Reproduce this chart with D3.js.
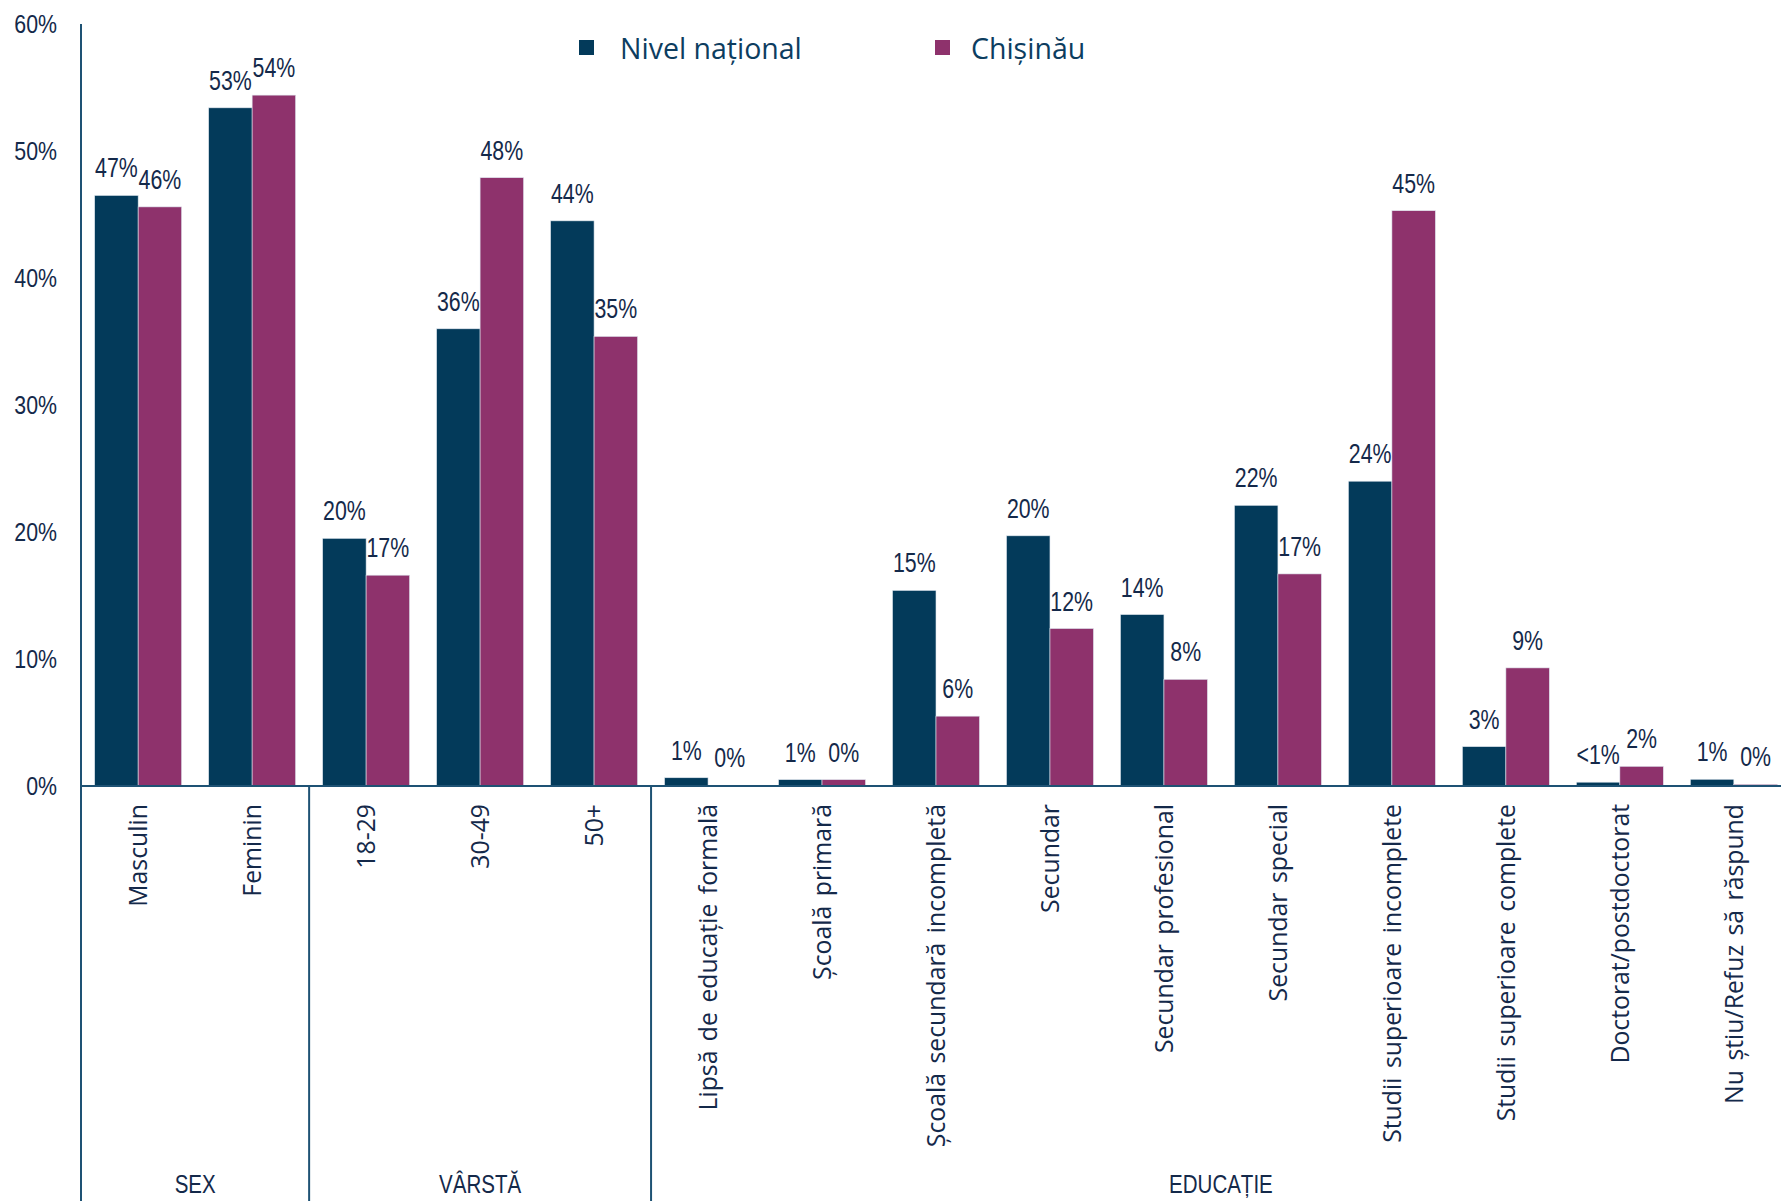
<!DOCTYPE html>
<html>
<head>
<meta charset="utf-8">
<script src="https://cdn.jsdelivr.net/npm/d3@7"></script>
<style>
  html, body { margin: 0; padding: 0; background: #ffffff; }
  svg { display: block; }
</style>
</head>
<body>
<div id="chart"></div>
<script>
// ---- DATA ----
const categories = [
  "Masculin", "Feminin",
  "18-29", "30-49", "50+",
  "Lipsă de educație formală", "Școală primară", "Școală secundară incompletă",
  "Secundar", "Secundar profesional", "Secundar special",
  "Studii superioare incomplete", "Studii superioare complete",
  "Doctorat/postdoctorat", "Nu știu/Refuz să răspund"
];
const groupNames = ["SEX", "VÂRSTĂ", "EDUCAȚIE"];
const groupOf = [0, 0, 1, 1, 1, 2, 2, 2, 2, 2, 2, 2, 2, 2, 2];
const seriesNames = ["Nivel național", "Chișinău"];
const nationalValues = [46.5, 53.4, 19.5, 36.0, 44.5, 0.65, 0.5, 15.4, 19.7, 13.5, 22.1, 24.0, 3.1, 0.3, 0.53];
const chisinauValues = [45.6, 54.4, 16.6, 47.9, 35.4, 0.05, 0.5, 5.5, 12.4, 8.4, 16.7, 45.3, 9.3, 1.55, 0.13];
const nationalLabels = ["47%", "53%", "20%", "36%", "44%", "1%", "1%", "15%", "20%", "14%", "22%", "24%", "3%", "<1%", "1%"];
const chisinauLabels = ["46%", "54%", "17%", "48%", "35%", "0%", "0%", "6%", "12%", "8%", "17%", "45%", "9%", "2%", "0%"];
const yTicks = [0, 10, 20, 30, 40, 50, 60];

// ---- STYLE ----
const W = 1781, H = 1201;
const colors = ["#033a5a", "#8e326c"];
const axisColor = "#1e5274";
const textColor = "#14294a";
const narrowFont = "'Liberation Sans', Arial, sans-serif";
const humanFont = "'Open Sans', 'Noto Sans', sans-serif";

// compress text horizontally to emulate a narrow face
function narrow(sel, factor) {
  sel.each(function () {
    const len = this.getComputedTextLength();
    d3.select(this).attr("textLength", len * factor).attr("lengthAdjust", "spacingAndGlyphs");
  });
}

const svg = d3.select("#chart").append("svg").attr("width", W).attr("height", H);

const x0 = d3.scaleBand().domain(categories).range([81, 1791]).paddingInner(0.237).paddingOuter(0.12);
const x1 = d3.scaleBand().domain(seriesNames).range([0, x0.bandwidth()]);
const y = d3.scaleLinear().domain([0, 60]).range([786, 24]);

const rows = categories.map((c, i) => ({
  cat: c,
  vals: [
    { s: seriesNames[0], v: nationalValues[i], lab: nationalLabels[i] },
    { s: seriesNames[1], v: chisinauValues[i], lab: chisinauLabels[i] }
  ]
}));

// bars
const g = svg.append("g");
const grp = g.selectAll("g.cat").data(rows).join("g")
  .attr("transform", d => `translate(${x0(d.cat)},0)`);
grp.selectAll("rect").data(d => d.vals).join("rect")
  .attr("x", d => x1(d.s))
  .attr("y", d => y(d.v))
  .attr("width", x1.bandwidth())
  .attr("height", d => y(0) - y(d.v))
  .attr("fill", (d, i) => colors[i])
  .attr("stroke", "#dfe6ee").attr("stroke-width", 0.6);
grp.selectAll("text").data(d => d.vals).join("text")
  .attr("x", d => x1(d.s) + x1.bandwidth() / 2)
  .attr("y", d => y(d.v) - 18)
  .attr("text-anchor", "middle")
  .attr("font-family", narrowFont)
  .attr("font-size", 27)
  .attr("fill", textColor)
  .text(d => d.lab)
  .call(narrow, 0.79);

// y axis
const yAxis = d3.axisLeft(y).tickValues(yTicks).tickFormat(d => d + "%").tickSize(0).tickPadding(24);
const ya = svg.append("g").attr("transform", "translate(81,0)").call(yAxis);
ya.select(".domain").remove();
ya.selectAll("text").attr("font-family", narrowFont).attr("font-size", 26).attr("fill", textColor).call(narrow, 0.82);

// left axis line (full height)
svg.append("line").attr("x1", 81).attr("x2", 81).attr("y1", y(60)).attr("y2", H)
  .attr("stroke", axisColor).attr("stroke-width", 2);

// baseline
svg.append("line").attr("x1", 81).attr("x2", W).attr("y1", y(0)).attr("y2", y(0))
  .attr("stroke", axisColor).attr("stroke-width", 2);

// category labels
svg.append("g").selectAll("text").data(categories).join("text")
  .attr("transform", d => `translate(${x0(d) + x0.bandwidth() / 2},804) rotate(-90)`)
  .attr("text-anchor", "end")
  .attr("dy", "0.35em")
  .attr("font-family", humanFont)
  .attr("font-size", 24.8)
  .attr("word-spacing", 3)
  .attr("fill", textColor)
  .text(d => d);

// group separators & labels
const step = x0.step();
const groups = groupNames.map((name, gi) => {
  const idx = categories.map((c, i) => i).filter(i => groupOf[i] === gi);
  const first = categories[idx[0]], last = categories[idx[idx.length - 1]];
  const start = x0(first) - (step - x0.bandwidth()) / 2;
  const end = x0(last) + x0.bandwidth() + (step - x0.bandwidth()) / 2;
  return { name, start, end };
});
svg.append("g").selectAll("line").data(groups.slice(1)).join("line")
  .attr("x1", d => d.start).attr("x2", d => d.start)
  .attr("y1", y(0)).attr("y2", H)
  .attr("stroke", axisColor).attr("stroke-width", 2);
svg.append("g").selectAll("text").data(groups).join("text")
  .attr("x", d => (d.start + d.end) / 2)
  .attr("y", 1193)
  .attr("text-anchor", "middle")
  .attr("font-family", narrowFont)
  .attr("font-size", 25)
  .attr("fill", textColor)
  .text(d => d.name)
  .call(narrow, 0.82);

// legend
const legendX = [579, 935];
const legendTextX = [620, 971];
const lg = svg.append("g").selectAll("g").data(seriesNames).join("g");
lg.append("rect").attr("x", (d, i) => legendX[i]).attr("y", 40)
  .attr("width", 15).attr("height", 15).attr("fill", (d, i) => colors[i]);
lg.append("text").attr("x", (d, i) => legendTextX[i]).attr("y", 59)
  .attr("font-family", humanFont).attr("font-size", 28.5)
  .attr("fill", "#0d3d5f")
  .text(d => d);
</script>
</body>
</html>
